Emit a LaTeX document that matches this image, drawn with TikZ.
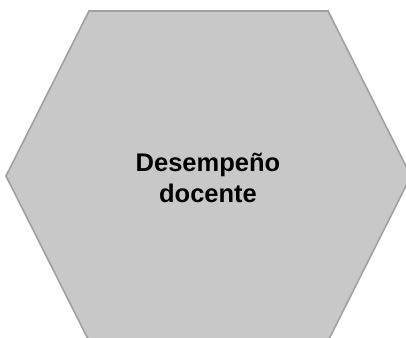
\documentclass[tikz,border=0pt]{standalone}
\usepackage{fontspec}
\setmainfont{Liberation Sans}
\definecolor{hexfill}{RGB}{200,200,200}
\definecolor{hexline}{RGB}{160,160,160}
\tikzset{
  hexa/.style={draw=hexline, fill=hexfill, line width=1.6bp, line join=miter},
  label text/.style={align=center, inner sep=0pt, font=\fontsize{25.5bp}{30.5bp}\selectfont\bfseries}
}
\begin{document}
\begin{tikzpicture}[x=1bp, y=-1bp]
      \useasboundingbox (0,0) rectangle (406,338);
      \clip (0,0) rectangle (406,338);
      % corners of the hexagon
      \coordinate (TL) at (89,11);
      \coordinate (TR) at (328,11);
      \coordinate (R) at (411,176);
      \coordinate (BR) at (328,341);
      \coordinate (BL) at (89,341);
      \coordinate (L) at (6,176);
      \draw[hexa] (TL) -- (TR) -- (R) -- (BR) -- (BL) -- (L) -- cycle;
      \node (desempeno) [label text] at (208,178) {Desempeño\\docente};
    \end{tikzpicture}
\end{document}
